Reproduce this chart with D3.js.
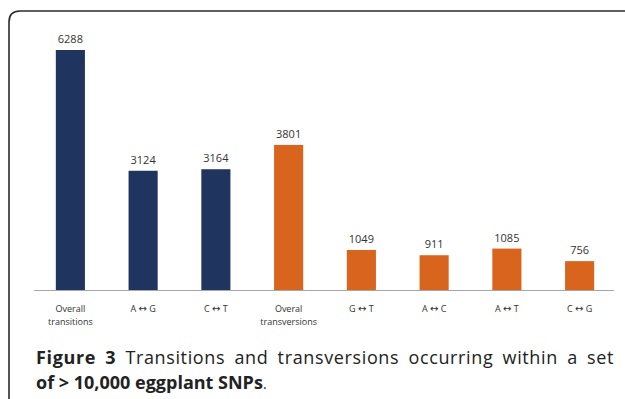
<!DOCTYPE html>
<html>
<head>
<meta charset="utf-8">
<script src="https://cdn.jsdelivr.net/npm/d3@7"></script>
<style>
  html, body { margin: 0; padding: 0; background: #fff; }
  svg { display: block; }
</style>
</head>
<body>
<script>
// SNP substitution classes and counts
const categories = ["Overall\ntransitions", "A \u2194 G", "C \u2194 T", "Overal\ntransversions",
                    "G \u2194 T", "A \u2194 C", "A \u2194 T", "C \u2194 G"];
const counts = [6288, 3124, 3164, 3801, 1049, 911, 1085, 756];
const groups = ["transition", "transition", "transition", "transversion",
                "transversion", "transversion", "transversion", "transversion"];

const W = 625, H = 399;
const svg = d3.select("body").append("svg").attr("width", W).attr("height", H);

// Panel frame: top and left rule with a rounded corner
svg.append("path")
  .attr("d", "M9,399 V22 Q9,11 20,11 H625")
  .attr("fill", "none").attr("stroke", "#2b2b2b").attr("stroke-width", 1.6);

const x = d3.scaleBand().domain(d3.range(categories.length)).range([34, 616]).paddingInner(0.6).paddingOuter(0.3);
const y = d3.scaleLinear().domain([0, 6288]).range([290, 50]);
const color = d3.scaleOrdinal().domain(["transition", "transversion"]).range(["#1f3560", "#d9641e"]);

const g = svg.append("g");

g.selectAll("rect.bar").data(counts).join("rect")
  .attr("class", "bar")
  .attr("x", (d, i) => x(i))
  .attr("width", x.bandwidth())
  .attr("y", d => y(d))
  .attr("height", d => y(0) - y(d))
  .attr("fill", (d, i) => color(groups[i]));

g.selectAll("text.val").data(counts).join("text")
  .attr("class", "val")
  .attr("x", (d, i) => x(i) + x.bandwidth() / 2)
  .attr("y", d => y(d) - 7)
  .attr("text-anchor", "middle")
  .attr("font-family", "'Open Sans', sans-serif")
  .attr("font-size", 11)
  .attr("fill", "#333")
  .text(d => d);

// Category axis
const axis = d3.axisBottom(x).tickSize(0).tickFormat(() => "");
const ax = svg.append("g").attr("transform", `translate(0,${y(0)})`).call(axis);
ax.select(".domain").attr("stroke", "#a6a6a6").attr("stroke-width", 1.2).attr("d", "M34,0.5H614");

ax.selectAll(".tick").each(function(i) {
  const lines = categories[i].split("\n");
  const t = d3.select(this).append("text")
    .attr("text-anchor", "middle")
    .attr("font-family", "'Open Sans', sans-serif")
    .attr("font-size", 9)
    .attr("fill", "#333");
  lines.forEach((s, k) => {
    const ts = t.append("tspan").attr("x", 0).attr("y", 22 + k * 13);
    // the arrow glyph comes from DejaVu, which draws it at full width
    s.split(/(\u2194)/).forEach(part => {
      if (!part) return;
      const p = ts.append("tspan").text(part);
      if (part === "\u2194") p.attr("font-family", "'DejaVu Sans', sans-serif").attr("font-size", 10);
    });
  });
});

// Figure caption, justified to the panel width on the first line
const cap = svg.append("g").attr("font-family", "'Open Sans', sans-serif").attr("fill", "#222");
const l1 = cap.append("text").attr("x", 36).attr("y", 364).attr("font-size", 18);
l1.append("tspan").attr("font-weight", "bold").text("Figure 3");
l1.append("tspan").text(" Transitions and transversions occurring within a set");
const target = 578, spaces = 8, chars = l1.text().length;
let natural = l1.node().getComputedTextLength();
l1.attr("letter-spacing", ((target - natural) * 0.55) / chars);
natural = l1.node().getComputedTextLength();
l1.attr("word-spacing", Math.max(0, (target - natural) / spaces));
const l2 = cap.append("text").attr("x", 36).attr("y", 389).attr("font-size", 18);
l2.append("tspan").attr("font-weight", "bold").text("of > 10,000 eggplant SNPs");
l2.append("tspan").attr("font-size", 14).text(".");
</script>
</body>
</html>
